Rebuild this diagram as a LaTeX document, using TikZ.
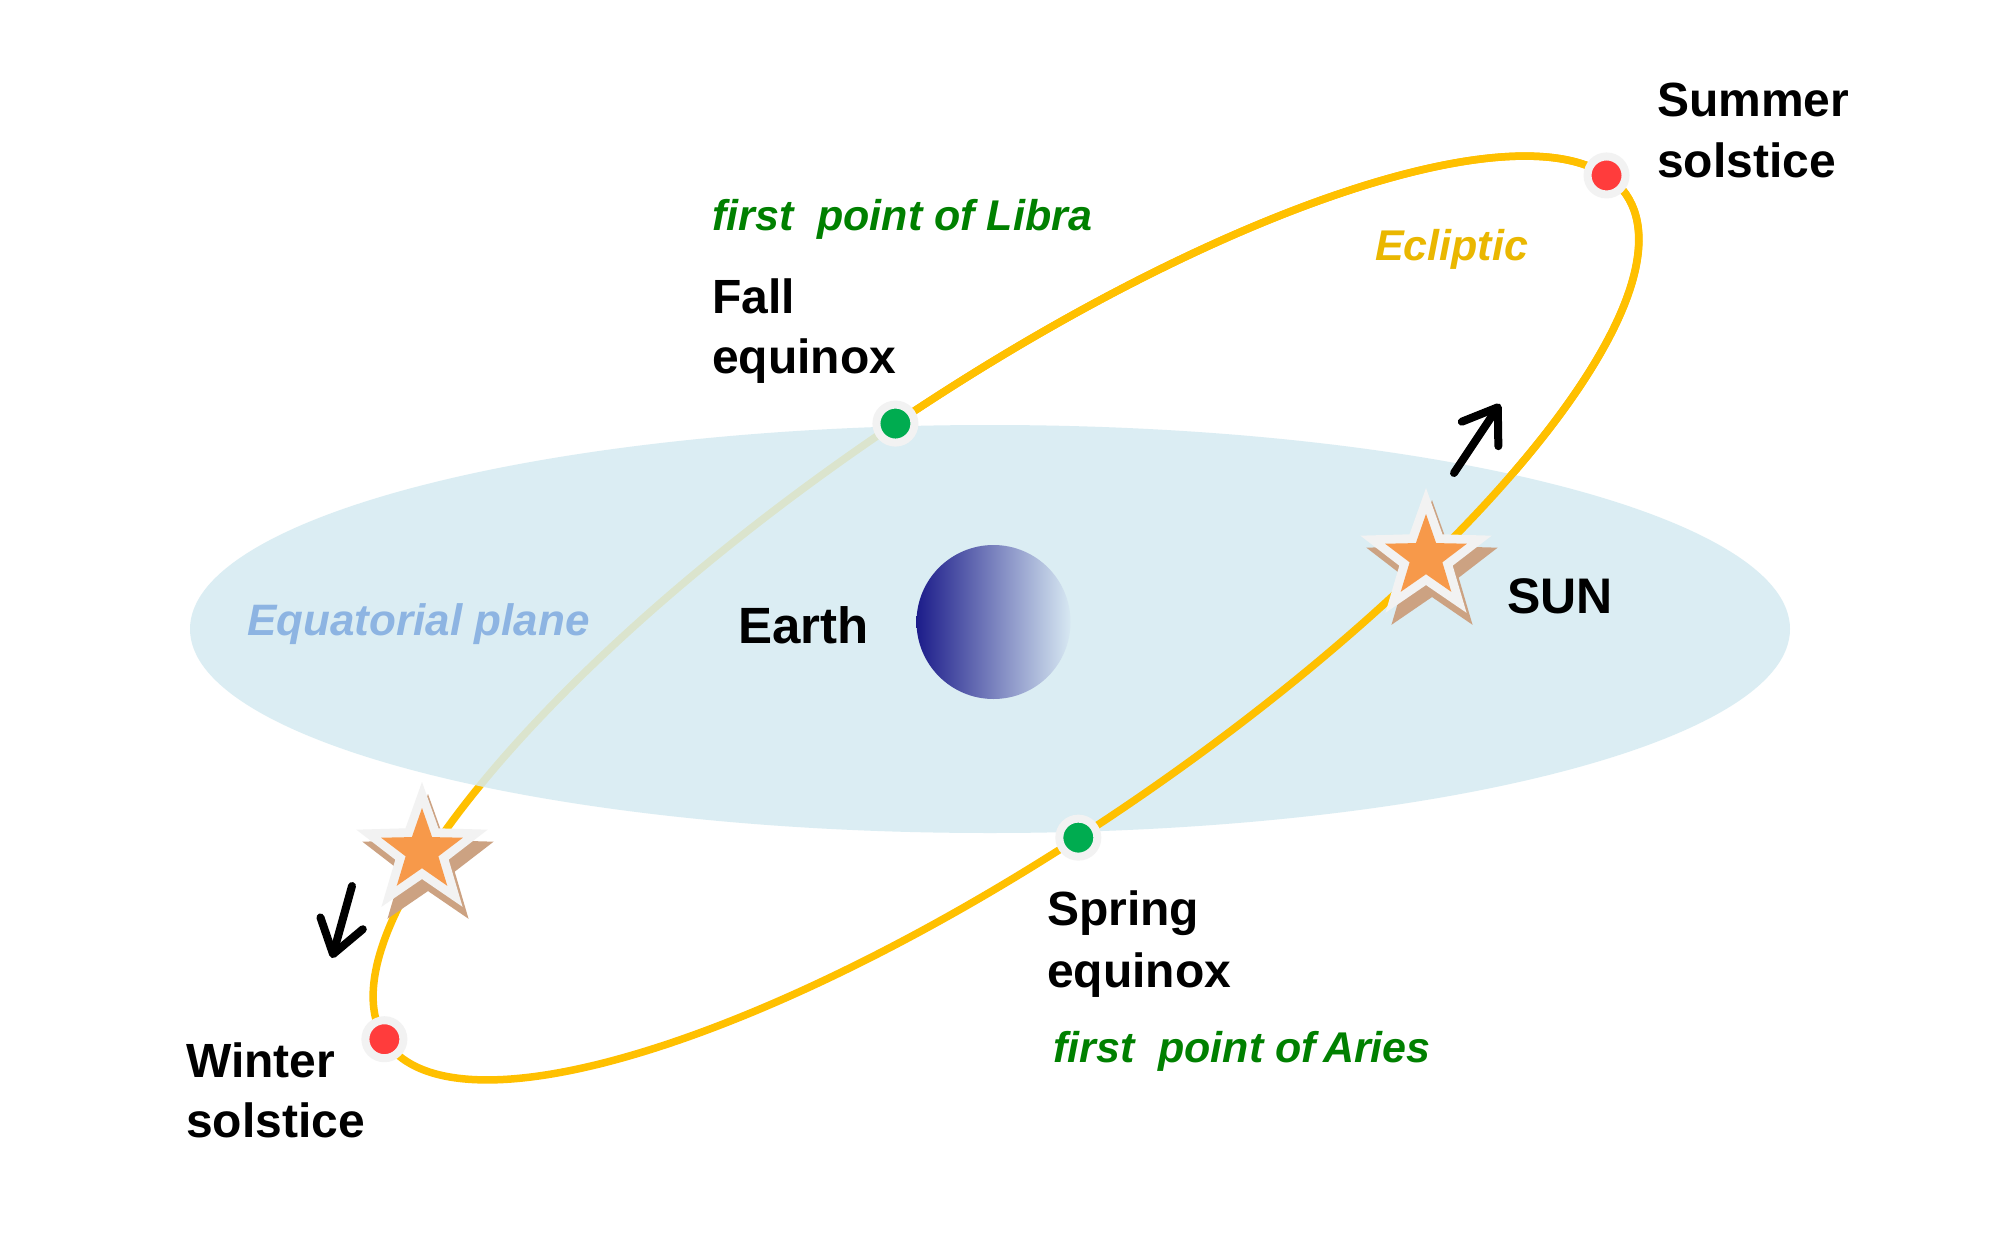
\documentclass[tikz,border=0pt]{standalone}
\usepackage{fontspec}
\setmainfont{Liberation Sans}
\usetikzlibrary{arrows.meta,shapes.geometric}
\definecolor{eclcolor}{RGB}{255,192,0}
\definecolor{planecolor}{RGB}{213,235,241}
\definecolor{ringgray}{RGB}{242,242,242}
\definecolor{solred}{RGB}{255,60,60}
\definecolor{eqgreen}{RGB}{0,172,80}
\definecolor{sunorange}{RGB}{247,153,74}
\definecolor{starshadow}{RGB}{204,162,130}
\definecolor{pointgreen}{RGB}{0,128,0}
\definecolor{ecltext}{RGB}{234,183,0}
\definecolor{planetext}{RGB}{141,180,226}
\definecolor{earthdark}{RGB}{28,28,138}
\definecolor{earthlight}{RGB}{215,232,242}

\tikzset{
  ecl/.style={draw=eclcolor, line width=7.5pt},
  dotnode/.style={circle, draw=ringgray, line width=8pt, minimum size=38pt, inner sep=0},
  bigstar/.style={star, star points=5, star point ratio=2.46, minimum size=138pt, inner sep=0},
  smallstar/.style={star, star points=5, star point ratio=2.5, minimum size=86pt, inner sep=0, fill=sunorange},
  movearrow/.style={line width=8pt, line cap=round, -{Straight Barb[length=32pt, width=44pt, round]}},
  lbl/.style={font=\fontsize{48}{60}\selectfont\bfseries, anchor=base west, align=left, inner sep=0},
  pointlbl/.style={font=\fontsize{43}{50}\selectfont\bfseries\itshape, text=pointgreen, anchor=base west, inner sep=0}
}

\begin{document}
\begin{tikzpicture}[x=1pt,y=-1pt]
\useasboundingbox (0,0) rectangle (2000,1244);
\fill[white] (0,0) rectangle (2000,1244);

% ecliptic, whole orbit first
\begin{scope}[shift={(1006,618)}, rotate=34.33]
  \draw[ecl] (0,0) ellipse [x radius=751, y radius=223];
\end{scope}

% equatorial plane and Earth
\fill[planecolor, opacity=0.85] (990,629) ellipse [x radius=800, y radius=204];
\shade[left color=earthdark, right color=earthlight] (993.5,622) circle [radius=77];

% front half of the ecliptic and the four points
\begin{scope}[shift={(1006,618)}, rotate=34.33]
  \draw[ecl] (-88.6:751 and 223) arc[start angle=-88.6, end angle=94.9, x radius=751, y radius=223];
  \coordinate (summerpt) at (-6.9:751 and 223);
  \coordinate (winterpt) at (180.7:751 and 223);
  \coordinate (fallpt) at (-88.6:751 and 223);
  \coordinate (springpt) at (94.9:751 and 223);
\end{scope}

% sun positions
\node[bigstar, fill=starshadow] (sunshadow) at (1432,569) {};
\node[bigstar, fill=ringgray] (sunring) at (1426,557) {};
\node[smallstar] (sun) at (1426,557) {};
\node[bigstar, fill=starshadow] (wsunshadow) at (428,863) {};
\node[bigstar, fill=ringgray] (wsunring) at (422,851) {};
\node[smallstar] (wsun) at (422,851) {};

% direction of motion
\coordinate (sunfrom) at (1454,473);
\coordinate (sunto) at (1500,404);
\coordinate (wsunfrom) at (352,886);
\coordinate (wsunto) at (332,958);
\draw[movearrow] (sunfrom) -- (sunto);
\draw[movearrow] (wsunfrom) -- (wsunto);

\node[dotnode, fill=solred] (summer) at (summerpt) {};
\node[dotnode, fill=solred] (winter) at (winterpt) {};
\node[dotnode, fill=eqgreen] (fall) at (fallpt) {};
\node[dotnode, fill=eqgreen] (spring) at (springpt) {};

% labels (base = last line)
\node[lbl] (summerlbl) at (1657,177) {Summer\\solstice};
\node[lbl] (winterlbl) at (186,1137) {Winter\\solstice};
\node[lbl] (falllbl) at (712,373) {Fall\\equinox};
\node[lbl, font=\fontsize{48}{62}\selectfont\bfseries] (springlbl) at (1047,987) {Spring\\equinox};
\node[pointlbl] (libralbl) at (712,230) {first\ \ point of Libra};
\node[pointlbl] (arieslbl) at (1053,1062) {first\ \ point of\,Aries};
\node[pointlbl, text=ecltext] (ecllbl) at (1375,260) {Ecliptic};
\node[pointlbl, text=planetext, font=\fontsize{44}{50}\selectfont\bfseries\itshape] (planelbl) at (247,635) {Equatorial plane};
\node[lbl, font=\fontsize{51}{60}\selectfont\bfseries] (earthlbl) at (738,643) {Earth};
\node[lbl, font=\fontsize{50}{60}\selectfont\bfseries] (sunlbl) at (1507,613) {SUN};
\end{tikzpicture}
\end{document}
